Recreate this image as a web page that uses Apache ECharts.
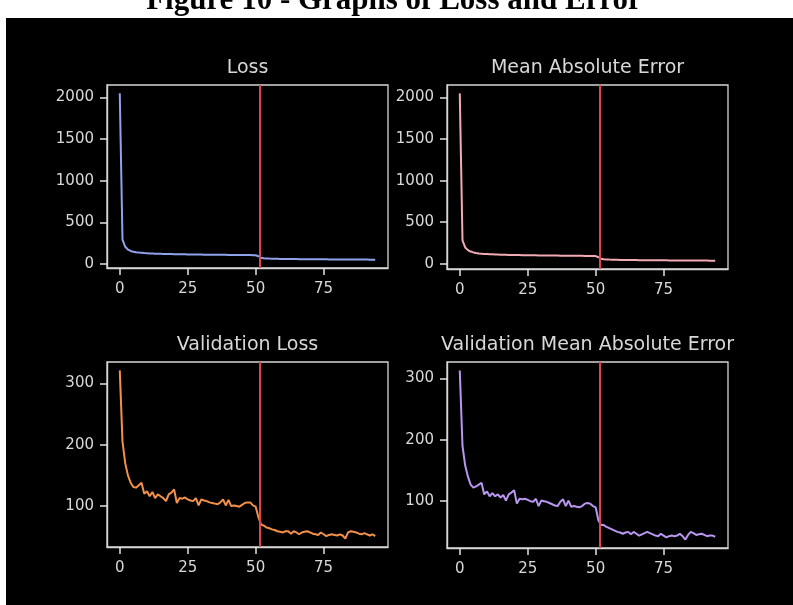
<!DOCTYPE html>
<html>
<head>
<meta charset="utf-8">
<script src="https://cdn.jsdelivr.net/npm/echarts@6/dist/echarts.min.js"></script>
<style>
  html, body { margin: 0; padding: 0; background: #fff; }
  #wrap { position: relative; width: 793px; height: 605px; }
  #panel { position: absolute; left: 6px; top: 18px; width: 787px; height: 587px; background: #000; }
  #chart { position: absolute; left: 0; top: 0; width: 793px; height: 605px; }
</style>
</head>
<body>
<div id="wrap"><div id="panel"></div><div id="chart"></div></div>
<script>
/* ---- data ---- */
const FIG_TITLE = "Figure 10 - Graphs of Loss and Error";
const PANEL_TITLES = ["Loss", "Mean Absolute Error", "Validation Loss", "Validation Mean Absolute Error"];
const X_TICKS = [0, 25, 50, 75];
const Y_TICKS_TOP = [0, 500, 1000, 1500, 2000];
const Y_TICKS_BOTTOM = [100, 200, 300];
const SWITCH_EPOCH = 51.5;

const loss = [
  2050, 290, 205, 172, 155, 146, 140, 135, 132, 129,
  127, 125, 124, 122, 121, 120, 119, 118, 117, 117,
  116, 115, 115, 114, 114, 113, 113, 112, 112, 111,
  111, 110, 110, 110, 109, 109, 109, 108, 108, 108,
  107, 107, 107, 106, 106, 106, 105, 105, 105, 104,
  103, 92, 74, 68, 65, 63, 62, 61, 60, 59,
  59, 58, 58, 57, 57, 57, 56, 56, 56, 55,
  55, 55, 55, 54, 54, 54, 54, 53, 53, 53,
  53, 53, 52, 52, 52, 52, 52, 51, 51, 51,
  51, 51, 50, 50, 50
];
const mae = [
  2050, 280, 196, 163, 146, 136, 129, 124, 121, 118,
  116, 114, 113, 111, 110, 109, 108, 107, 106, 106,
  105, 104, 104, 103, 103, 102, 102, 101, 101, 100,
  100, 99, 99, 99, 98, 98, 98, 97, 97, 97,
  96, 96, 96, 95, 95, 95, 94, 94, 94, 93,
  92, 78, 60, 55, 52, 50, 49, 48, 47, 46,
  46, 45, 45, 44, 44, 44, 43, 43, 43, 42,
  42, 42, 42, 41, 41, 41, 41, 40, 40, 40,
  40, 40, 39, 39, 39, 39, 39, 38, 38, 38,
  38, 38, 37, 37, 37
];
const valLoss = [
  321, 205, 170, 150, 138, 131, 130, 134, 138, 120,
  124, 116, 123, 113, 119, 116, 113, 108, 119, 122,
  127, 105, 113, 112, 114, 111, 109, 108, 113, 101,
  111, 109, 108, 106, 105, 104, 103, 106, 111, 101,
  110, 100, 101, 100, 99, 102, 105, 106, 106, 101,
  99, 82, 70, 68, 65, 64, 62, 61, 59, 58,
  57, 59, 59, 55, 59, 57, 54, 57, 58, 59,
  57, 55, 54, 53, 57, 54, 51, 53, 54, 53,
  52, 54, 52, 47, 57, 59, 58, 57, 55, 54,
  56, 54, 52, 54, 51
];
const valMae = [
  313, 190, 158, 140, 127, 122, 124, 127, 130, 111,
  116, 108, 113, 108, 111, 106, 110, 101, 111, 114,
  118, 96, 104, 103, 104, 102, 100, 99, 104, 92,
  101, 100, 99, 97, 95, 93, 92, 99, 103, 92,
  101, 91, 92, 91, 90, 92, 96, 97, 96, 92,
  90, 69, 61, 61, 58, 56, 54, 52, 50, 49,
  47, 49, 50, 46, 50, 47, 44, 46, 48, 50,
  48, 46, 44, 43, 47, 44, 41, 43, 44, 43,
  44, 47, 43, 37.5, 45, 50, 48, 45, 46, 47,
  45, 43, 44, 44, 42
];

/* ---- styling ---- */
const COLORS = {
  loss: "#8fa3ec",
  mae: "#f2aab4",
  valLoss: "#f3904a",
  valMae: "#b996f0",
  vline: "#e2444f",
  frame: "#d6d6d6",
  text: "#d8d8d8",
};
const FONT = "DejaVu Sans";

// [left, top, width, height] of each axes box
const BOXES = [
  [107, 85, 281, 183],
  [447, 85, 281, 184],
  [107, 362, 281, 185],
  [447, 362, 281, 186],
];
const SERIES = [
  { data: loss, color: COLORS.loss, ticks: Y_TICKS_TOP },
  { data: mae, color: COLORS.mae, ticks: Y_TICKS_TOP },
  { data: valLoss, color: COLORS.valLoss, ticks: Y_TICKS_BOTTOM },
  { data: valMae, color: COLORS.valMae, ticks: Y_TICKS_BOTTOM },
];

// matplotlib-style 5% margins
const padMin = v => v.min - 0.05 * (v.max - v.min);
const padMax = v => v.max + 0.05 * (v.max - v.min);

const chart = echarts.init(document.getElementById("chart"), null, { renderer: "canvas" });

const grid = BOXES.map(([l, t, w, h]) => ({
  left: l, top: t, width: w, height: h,
  show: true, borderColor: COLORS.frame, borderWidth: 1.3, backgroundColor: "transparent",
}));

const axisLineStyle = () => ({ color: COLORS.frame, width: 1.4 });
const tickLineStyle = () => ({ color: "#e2e2e2", width: 1.5 });
const labelStyle = { color: COLORS.text, fontSize: 15, fontFamily: FONT, formatter: v => String(v) };

const xAxis = BOXES.map((_, i) => ({
  type: "value", gridIndex: i, min: padMin, max: padMax, position: "bottom",
  axisLine: { show: true, onZero: false, lineStyle: axisLineStyle() },
  splitLine: { show: false },
  axisTick: { show: true, length: 7, inside: false, customValues: X_TICKS, lineStyle: tickLineStyle() },
  axisLabel: { ...labelStyle, margin: 14, customValues: X_TICKS },
}));

const yAxis = SERIES.map((s, i) => ({
  type: "value", gridIndex: i, min: padMin, max: padMax, scale: true, position: "left",
  axisLine: { show: true, onZero: false, lineStyle: axisLineStyle() },
  splitLine: { show: false },
  axisTick: { show: true, length: 7, inside: false, customValues: s.ticks, lineStyle: tickLineStyle() },
  axisLabel: { ...labelStyle, margin: 13, customValues: s.ticks },
}));

const series = SERIES.map((s, i) => ({
  type: "line", xAxisIndex: i, yAxisIndex: i,
  data: s.data.map((v, k) => [k, v]),
  showSymbol: false, symbol: "none", smooth: false,
  lineStyle: { color: s.color, width: 2 },
  itemStyle: { color: s.color },
  markLine: {
    silent: true, symbol: ["none", "none"], label: { show: false },
    lineStyle: { color: COLORS.vline, width: 2, type: "solid" },
    data: [{ xAxis: SWITCH_EPOCH }],
  },
}));

const titles = PANEL_TITLES.map((t, i) => {
  const [l, top, w] = BOXES[i];
  return {
    type: "text",
    x: l + w / 2, y: top - 17,
    style: {
      text: t, fill: COLORS.text, font: `19px "${FONT}"`,
      textAlign: "center", align: "center",
      textVerticalAlign: "middle", verticalAlign: "middle",
    },
  };
});

chart.setOption({
  animation: false,
  backgroundColor: "transparent",
  grid, xAxis, yAxis, series,
  graphic: [
    {
      type: "text", x: 394, y: 1,
      style: {
        text: FIG_TITLE, fill: "#000", font: `bold 31px "Liberation Serif"`,
        textAlign: "center", align: "center",
        textVerticalAlign: "middle", verticalAlign: "middle",
      },
    },
    ...titles,
  ],
});
</script>
</body>
</html>
